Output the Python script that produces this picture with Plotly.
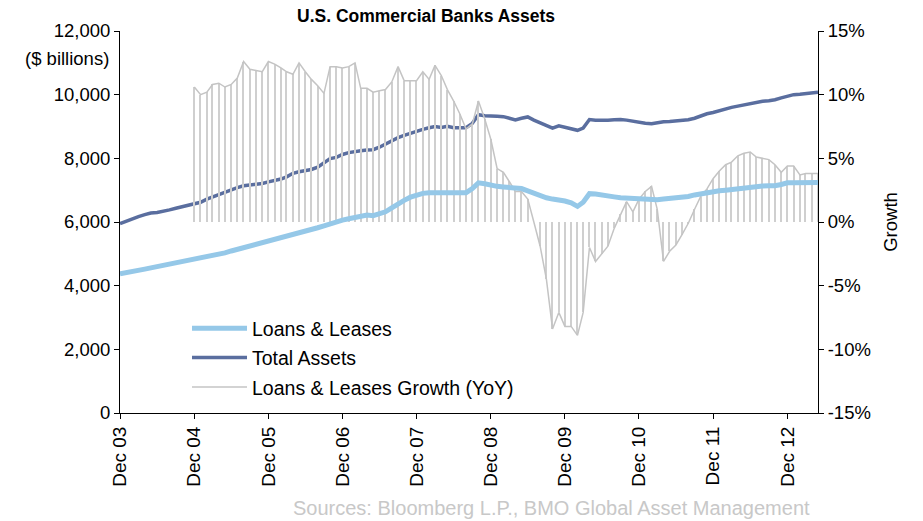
import pandas as pd
import plotly.graph_objects as go

# Monthly observations, Dec 2003 .. May 2013
dates = pd.date_range("2003-12-01", "2013-05-01", freq="MS")

total_assets = [
    5950,
    6030, 6110, 6170, 6230, 6280, 6300, 6330, 6380, 6430, 6480, 6530, 6570,
    6620, 6720, 6790, 6850, 6920, 7000, 7080, 7140, 7160, 7180, 7210, 7260,
    7300, 7350, 7420, 7530, 7580, 7620, 7650, 7720, 7850, 7990, 8030, 8120,
    8180, 8220, 8240, 8260, 8270, 8350, 8450, 8530, 8650, 8720, 8790, 8850,
    8910, 8960, 9000, 8970, 9010, 8960, 8960, 8960, 9100, 9370, 9340, 9320,
    9320, 9310, 9260, 9210, 9260, 9300, 9200, 9110, 9050, 8950, 9020, 8980,
    8930, 8880, 8950, 9220, 9200, 9190, 9200, 9210, 9220, 9200, 9160, 9120,
    9100, 9085, 9120, 9150, 9160, 9180, 9200, 9210, 9260, 9330, 9400, 9440,
    9500, 9570, 9600, 9640, 9680, 9720, 9760, 9790, 9810, 9840, 9900, 9960,
    10000, 10010, 10040, 10070, 10080,
]

loans_leases = [
    4370,
    4400, 4440, 4480, 4520, 4560, 4600, 4630, 4660, 4690, 4720, 4760, 4800,
    4840, 4880, 4930, 4980, 5030, 5090, 5140, 5190, 5240, 5290, 5340, 5380,
    5430, 5480, 5530, 5590, 5650, 5710, 5770, 5820, 5880, 5950, 6010, 6060,
    6100, 6140, 6180, 6220, 6200, 6250, 6320, 6445, 6580, 6680, 6780, 6850,
    6900, 6920, 6920, 6920, 6920, 6920, 6920, 6920, 7050, 7230, 7200, 7150,
    7120, 7100, 7080, 7060, 7050, 6980, 6900, 6820, 6760, 6720, 6700, 6660,
    6600, 6490, 6620, 6890, 6880, 6860, 6820, 6790, 6760, 6750, 6740, 6700,
    6690, 6680, 6700, 6720, 6730, 6760, 6780, 6800, 6850, 6890, 6920, 6950,
    6980, 7000, 7020, 7060, 7100, 7110, 7120, 7130, 7140, 7140, 7180, 7230,
    7230, 7240, 7230, 7230, 7240,
]

# YoY growth (%) of loans & leases, starting Dec 2004
growth_dates = dates[12:]
growth_yoy = [
    10.6,
    10.0, 10.2, 10.8, 10.9, 10.6, 10.8, 11.3, 12.6, 12.0, 11.9, 11.8, 12.6,
    12.4, 12.1, 11.8, 11.6, 12.5, 11.8, 11.2, 10.7, 10.1, 12.2, 12.2, 12.1,
    12.2, 12.5, 10.5, 10.5, 10.2, 10.3, 10.4, 11.0, 12.2, 11.1, 11.1, 11.1,
    11.8, 11.2, 12.3, 11.5, 10.4, 9.5, 8.5, 7.3, 7.7, 9.5, 8.1, 6.5,
    4.2, 3.9, 3.2, 2.4, 2.4, 1.8, 0.0, -1.9, -4.5, -8.4, -7.1, -8.2,
    -8.2, -8.9, -7.1, -2.0, -3.1, -2.5, -1.9, -0.5, 0.6, 1.6, 0.8, 1.8,
    2.4, 2.8, 1.0, -3.1, -2.3, -1.8, -1.0, -0.1, 1.0, 2.0, 2.6, 3.4,
    4.0, 4.5, 4.7, 5.2, 5.4, 5.5, 5.1, 5.0, 4.9, 4.5, 3.9, 4.4,
    4.4, 3.7, 3.8, 3.8, 3.8,
]

tick_dates = pd.date_range("2003-12-01", "2012-12-01", freq="12MS")
tick_labels = ["Dec 03", "Dec 04", "Dec 05", "Dec 06", "Dec 07",
               "Dec 08", "Dec 09", "Dec 10", "Dec 11", "Dec 12"]

FONT = "Liberation Sans, Arial, sans-serif"
LIGHT = "#95c8e8"
DARK = "#5a6e9f"
GREY = "#c4c4c4"

fig = go.Figure()

# Drop lines for growth (thin bars)
fig.add_trace(go.Bar(
    x=growth_dates, y=growth_yoy, yaxis="y2",
    width=5.5e8, marker=dict(color="#cfcfcf", line=dict(width=0)),
    showlegend=False, hoverinfo="skip",
))

fig.add_trace(go.Scatter(
    x=dates, y=loans_leases, name="Loans & Leases", yaxis="y3",
    mode="lines", line=dict(color=LIGHT, width=5),
    legendgroup="a", legendrank=1,
))
fig.add_trace(go.Scatter(
    x=dates, y=total_assets, name="Total Assets",
    mode="lines", line=dict(color=DARK, width=3.5),
    legendgroup="b", legendrank=2,
))
fig.add_trace(go.Scatter(
    x=growth_dates, y=growth_yoy, name="Loans & Leases Growth (YoY)", yaxis="y2",
    mode="lines", line=dict(color=GREY, width=1.5),
    legendgroup="c", legendrank=3,
))

fig.update_layout(
    width=923, height=521,
    margin=dict(l=120, r=105, t=31, b=108),
    paper_bgcolor="white", plot_bgcolor="white",
    font=dict(family=FONT, size=18, color="black"),
    title=dict(text="<b>U.S. Commercial Banks Assets</b>", x=0.4616, xanchor="center",
               y=0.969, yanchor="middle", xref="container", yref="container",
               font=dict(size=17.5, family=FONT)),
    bargap=0,
    showlegend=True,
    legend=dict(x=0.096, y=0.272, xanchor="left", yanchor="top",
                bgcolor="rgba(0,0,0,0)", traceorder="grouped",
                tracegroupgap=1, itemwidth=55, font=dict(size=19.5)),
    xaxis=dict(
        type="date", range=[dates[0], dates[-1]],
        tickmode="array", tickvals=tick_dates, ticktext=tick_labels,
        tickangle=-90, ticks="outside", ticklen=5, tickcolor="black",
        showline=True, linecolor="black", linewidth=1,
        showgrid=False, zeroline=False, tickfont=dict(size=19),
    ),
    yaxis=dict(
        range=[0, 12000], tickvals=[0, 2000, 4000, 6000, 8000, 10000, 12000],
        tickformat=",d", ticks="outside", ticklen=5, tickcolor="black",
        showline=True, linecolor="black", linewidth=1,
        showgrid=False, zeroline=False, tickfont=dict(size=18.5),
    ),
    yaxis2=dict(
        overlaying="y", side="right", range=[-15, 15],
        tickvals=[-15, -10, -5, 0, 5, 10, 15],
        ticktext=["-15%", "-10%", "-5%", "0%", "5%", "10%", "15%"],
        ticks="outside", ticklen=5, tickcolor="black",
        showline=True, linecolor="black", linewidth=1,
        showgrid=False, zeroline=False, tickfont=dict(size=18.5),
        title=dict(text="Growth", font=dict(size=18.5), standoff=14),
    ),
    yaxis3=dict(
        overlaying="y", matches="y", visible=False, showgrid=False,
        zeroline=False,
    ),
)

fig.add_annotation(text="($ billions)", xref="paper", yref="paper",
                   x=-0.013, y=0.929, xanchor="right", yanchor="middle",
                   showarrow=False, font=dict(size=18.5))
fig.add_annotation(text="Sources: Bloomberg L.P., BMO Global Asset Management",
                   xref="paper", yref="paper", x=0.991, y=-0.249,
                   xanchor="right", yanchor="middle", showarrow=False,
                   font=dict(size=20, color="#c8c8c8"))

fig.write_html("out.html", config={"displayModeBar": False},
               post_script="document.body.style.margin='0';")
